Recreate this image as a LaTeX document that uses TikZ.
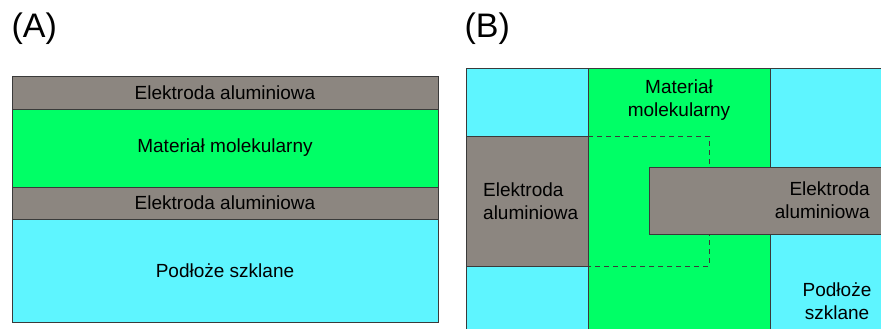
\documentclass[tikz,border=0pt]{standalone}
\usepackage{fontspec}
\setmainfont{Liberation Sans}
\usetikzlibrary{positioning,calc}
\definecolor{alugray}{HTML}{8C8680}
\definecolor{molgreen}{HTML}{00FF66}
\definecolor{glasscyan}{HTML}{5EF5FF}
\definecolor{edgegray}{HTML}{3A3A3A}

\begin{document}
\begin{tikzpicture}[
  x=1pt,y=-1pt,
  node distance=0pt,
  layer/.style={draw=edgegray,line width=1pt,outer sep=0pt,inner sep=0pt,
    minimum width=426pt,font=\fontsize{19}{23}\selectfont,align=center},
  electrode/.style={layer,fill=alugray},
  organic/.style={layer,fill=molgreen},
  substrate/.style={layer,fill=glasscyan},
  label/.style={font=\fontsize{19}{23}\selectfont,align=center,inner sep=0pt},
  hidden/.style={draw=edgegray,line width=.8pt,dash pattern=on 5pt off 4pt}
]
\useasboundingbox (0,0) rectangle (881,329);
\clip (0,0) rectangle (881,329);
% (A) layer stack
\node[font=\fontsize{34}{34}\selectfont,anchor=west] (tagA) at (8,29) {(A)};
\node[electrode,minimum height=32pt,anchor=north west] (aluTop) at (12,77) {Elektroda aluminiowa};
\node[organic,minimum height=78pt,below=of aluTop] (molA) {Materiał molekularny};
\node[electrode,minimum height=32pt,below=of molA] (aluBot) {Elektroda aluminiowa};
\node[substrate,minimum height=103pt,below=of aluBot] (glassA) {Podłoże szklane};
% (B) top view
\node[font=\fontsize{34}{34}\selectfont,anchor=west] (tagB) at (461,29) {(B)};
\node[substrate,minimum width=440pt,minimum height=280pt,anchor=north west] (glassB) at (466,69) {};
\node[organic,minimum width=182pt,minimum height=280pt,anchor=north west] (molB) at (588,69) {};
\node[electrode,minimum width=122pt,minimum height=130pt,anchor=north west] (aluLeft) at (466,136) {};
\draw[hidden] (aluLeft.north east) -| ($(aluLeft.south east)+(121,0)$) -- (aluLeft.south east);
\node[electrode,minimum width=250pt,minimum height=67pt,anchor=north west] (aluRight) at (649,167) {};
\node[label,anchor=north] (molText) at (679,80) {Materiał\\molekularny};
\node[label,align=left,anchor=west] (aluLeftText) at (aluLeft.west -| 483,0) {Elektroda\\aluminiowa};
\node[label,align=right,anchor=east] (aluRightText) at (aluRight.west -| 870,0) {Elektroda\\aluminiowa};
\node[label] (glassText) at (837,301) {Podłoże\\szklane};
\end{tikzpicture}
\end{document}
